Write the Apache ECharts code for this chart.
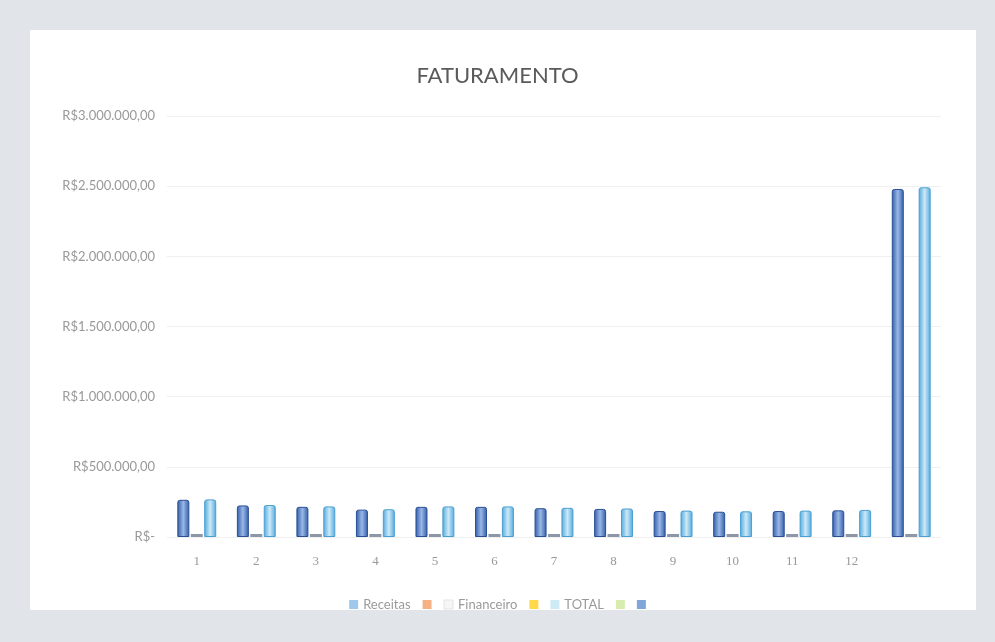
<!DOCTYPE html>
<html>
<head>
<meta charset="utf-8">
<title>Faturamento</title>
<script src="https://cdn.jsdelivr.net/npm/echarts@6/dist/echarts.min.js"></script>
<style>
  html, body { margin: 0; padding: 0; background: #e1e4e8; }
  #chart { width: 995px; height: 642px; }
</style>
</head>
<body>
<div id="chart"></div>
<script>
// 月別の売上（最後の列は合計）
const categories = ['1', '2', '3', '4', '5', '6', '7', '8', '9', '10', '11', '12', ''];
const receitas = [265000, 225000, 215000, 195000, 215000, 215000, 205000, 200000, 185000, 180000, 185000, 190000, 2480000];
const financeiro = [3000, 3000, 3000, 3000, 3000, 3000, 3000, 3000, 3000, 3000, 3000, 3000, 12000];
const total = [268000, 228000, 218000, 198000, 218000, 218000, 208000, 203000, 188000, 183000, 188000, 193000, 2492000];
const yTicks = [0, 500000, 1000000, 1500000, 2000000, 2500000, 3000000];

const chart = echarts.init(document.getElementById('chart'));

// R$ 表記
function brl(v) {
    if (v === 0) return 'R$-';
    const s = String(Math.round(v)).replace(/\B(?=(\d{3})+(?!\d))/g, '.');
    return 'R$' + s + ',00';
}

function barGrad(edge, mid) {
    return {
        type: 'linear', x: 0, y: 0, x2: 1, y2: 0,
        colorStops: [
            { offset: 0, color: edge },
            { offset: 0.5, color: mid },
            { offset: 1, color: edge }
        ]
    };
}

const option = {
    backgroundColor: '#e1e4e8',
    animation: false,
    graphic: [
        {
            type: 'rect',
            shape: { x: 30, y: 30, width: 946, height: 580 },
            style: { fill: '#ffffff' },
            z: -10
        }
    ],
    title: {
        text: 'FATURAMENTO',
        left: 'center',
        top: 60,
        textStyle: { fontFamily: 'Lato', fontSize: 22, fontWeight: 'normal', color: '#5a5a5a' }
    },
    legend: {
        bottom: 26,
        left: 'center',
        icon: 'rect',
        itemWidth: 9,
        itemHeight: 9,
        itemGap: 12,
        textStyle: { fontFamily: 'Lato', fontSize: 13, color: '#9a9a9a' },
        formatter: name => name.trim(),
        data: [
            { name: 'Receitas', itemStyle: { color: '#9fc8ea', borderWidth: 0 } },
            { name: ' ', itemStyle: { color: '#f4b183', borderWidth: 0 } },
            { name: 'Financeiro', itemStyle: { color: '#f6f6f6', borderColor: '#e4e4e4', borderWidth: 1 } },
            { name: '  ', itemStyle: { color: '#ffd94a', borderWidth: 0 } },
            { name: 'TOTAL', itemStyle: { color: '#cdeaf5', borderWidth: 0 } },
            { name: '   ', itemStyle: { color: '#d9ecb0', borderWidth: 0 } },
            { name: '    ', itemStyle: { color: '#7fa6d8', borderWidth: 0 } }
        ]
    },
    grid: { left: 167, right: 54, top: 116, bottom: 105 },
    xAxis: {
        type: 'category',
        data: categories,
        axisLine: { show: false },
        axisTick: { show: false },
        axisLabel: { margin: 18, fontFamily: 'Liberation Serif', fontSize: 13, color: '#999999' }
    },
    yAxis: {
        type: 'value',
        min: 0,
        max: yTicks[yTicks.length - 1],
        interval: yTicks[1] - yTicks[0],
        axisLine: { show: false },
        axisTick: { show: false },
        splitLine: { lineStyle: { color: '#f0f0f0', width: 1 } },
        axisLabel: {
            margin: 12,
            fontFamily: 'Lato',
            fontSize: 13,
            color: '#999999',
            formatter: brl
        }
    },
    series: [
        {
            name: 'Receitas',
            type: 'bar',
            data: receitas,
            barWidth: 12,
            barGap: '12%',
            itemStyle: {
                color: barGrad('#2f5ba8', '#9ab8e6'),
                borderColor: '#2a4f95',
                borderWidth: 1,
                borderRadius: [2, 2, 0, 0]
            }
        },
        {
            name: 'Financeiro',
            type: 'bar',
            data: financeiro,
            barWidth: 12,
            barMinHeight: 3,
            itemStyle: { color: '#8d97a8' }
        },
        {
            name: 'TOTAL',
            type: 'bar',
            data: total,
            barWidth: 12,
            itemStyle: {
                color: barGrad('#4fa8dc', '#cde9f8'),
                borderColor: '#4a9fd2',
                borderWidth: 1,
                borderRadius: [2, 2, 0, 0]
            }
        },
        { name: ' ', type: 'line', data: [] },
        { name: '  ', type: 'line', data: [] },
        { name: '   ', type: 'line', data: [] },
        { name: '    ', type: 'line', data: [] }
    ]
};

chart.setOption(option);

window.addEventListener('resize', () => { try { chart.resize(); } catch {} });
</script>
</body>
</html>
